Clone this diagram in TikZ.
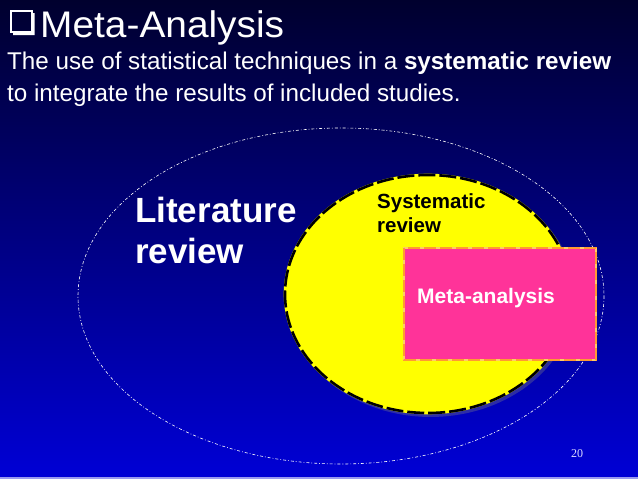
\documentclass[tikz,border=0pt]{standalone}
\usepackage{fontspec}
\setmainfont{Liberation Sans}
\newfontfamily\serifnum{Liberation Serif}
\usepackage{tikz}
\usetikzlibrary{shadows, positioning}

\begin{document}
\begin{tikzpicture}[x=1pt, y=-1pt]
% --- CORES DO SLIDE E TEXTOS ---
\definecolor{fundoTopo}{HTML}{00002E}
\definecolor{fundoBase}{HTML}{0000D6}
\definecolor{faixa}{HTML}{9A9AF0}
\definecolor{amarelo}{HTML}{FFFF00}
\definecolor{rosa}{HTML}{FF3399}
\definecolor{laranja}{HTML}{FF9A33}
\definecolor{laranjaClaro}{HTML}{FFCC66}
\tikzset{
  texto/.style={anchor=base west, inner sep=0pt, text=white},
  textoB/.style={texto, font=\bfseries\fontsize{35}{41}\selectfont},
  textoS/.style={anchor=base west, inner sep=0pt, text=black, font=\bfseries\fontsize{20.5}{24}\selectfont}
}

% LAYER 1: Fundo degrade
\shade[top color=fundoTopo, bottom color=fundoBase] (0,0) rectangle (638,479);
\useasboundingbox (0,0) rectangle (638,479);
\fill[faixa] (0,476.5) rectangle (638,479);

% LAYER 2: Titulo e definicao
\draw[white, line width=2pt] (11,11) rectangle (32,32);
\fill[white] (32,13) -- (34.5,13) -- (34.5,35) -- (13,35) -- (13,32) -- (32,32) -- cycle;
\node[texto, xscale=1.05, font=\fontsize{37}{44}\selectfont] (titulo) at (40,37) {Meta-Analysis};
\node[texto, font=\fontsize{24.2}{29}\selectfont] (defA) at (7,69.5) {The use of statistical techniques in a \textbf{systematic review}};
\node[texto, font=\fontsize{24.2}{29}\selectfont] (defB) at (7,101) {to integrate the results of included studies.};

% LAYER 3: Revisao de literatura (elipse externa)
\draw[white, line width=0.6pt, dash pattern=on 3pt off 2pt on 0.8pt off 2pt] (341,296) ellipse [x radius=263, y radius=168];
\node[textoB] (litA) at (135,222) {Literature};
\node[textoB] (litB) at (135,263) {review};

% LAYER 4: Revisao sistematica
\fill[amarelo, drop shadow={opacity=0.35}] (428,294) ellipse [x radius=144.3, y radius=120.3];
\draw[line width=2.6pt, dash pattern=on 17pt off 4pt] (428,294) ellipse [x radius=143, y radius=119];
\node[textoS] (sisA) at (377,208) {Systematic};
\node[textoS] (sisB) at (377,232) {review};

% LAYER 5: Meta-analise
\draw[fill=rosa, draw=laranjaClaro, line width=2pt] (404,248) rectangle (596,360);
\draw[laranja, line width=2pt, dash pattern=on 12pt off 4pt] (404,248) rectangle (596,360);
\node[texto, font=\bfseries\fontsize{21}{25}\selectfont] (meta) at (417,303) {Meta-analysis};

% numero do slide
\node[anchor=base, inner sep=0pt, text=white!85!blue, font=\serifnum\fontsize{12}{14}\selectfont] (pagina) at (577,457) {20};
\end{tikzpicture}
\end{document}
